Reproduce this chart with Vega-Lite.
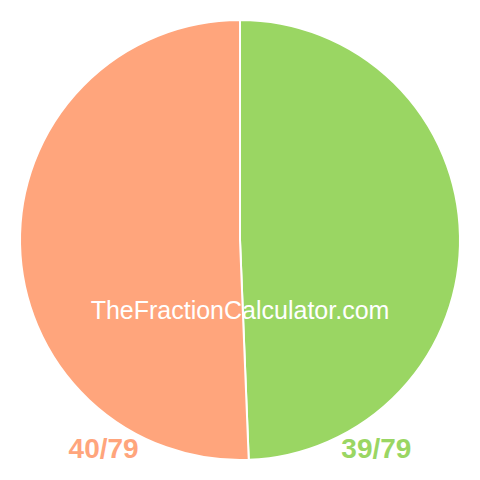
{
  "$schema": "https://vega.github.io/schema/vega-lite/v6.json",
  "width": 480,
  "height": 480,
  "padding": 0,
  "autosize": {"type": "fit", "contains": "padding"},
  "data": {
    "values": [
      {"fraction": "39/79", "value": 39, "order": 1},
      {"fraction": "40/79", "value": 40, "order": 2}
    ]
  },
  "layer": [
    {
      "mark": {"type": "arc", "outerRadius": 220, "stroke": "white", "strokeWidth": 2},
      "encoding": {
        "theta": {"field": "value", "type": "quantitative", "stack": true},
        "order": {"field": "order", "type": "quantitative"},
        "color": {
          "field": "fraction",
          "type": "nominal",
          "scale": {"domain": ["39/79", "40/79"], "range": ["#9AD663", "#FFA57C"]},
          "legend": null
        }
      }
    },
    {
      "mark": {
        "type": "text",
        "font": "Liberation Sans",
        "fontSize": 28,
        "fontWeight": "bold",
        "baseline": "alphabetic",
        "align": "center",
        "y": {"expr": "height - 22"}
      },
      "encoding": {
        "x": {
          "field": "fraction",
          "type": "nominal",
          "scale": {"type": "point", "domain": ["40/79", "39/79"], "padding": 0.38},
          "axis": null
        },
        "text": {"field": "fraction"},
        "color": {"field": "fraction", "type": "nominal", "legend": null}
      }
    },
    {
      "data": {"values": [{"site": "TheFractionCalculator.com"}]},
      "mark": {
        "type": "text",
        "font": "Liberation Sans",
        "fontSize": 25,
        "color": "white",
        "baseline": "alphabetic",
        "align": "center",
        "x": {"expr": "width / 2"},
        "y": {"expr": "height * 0.665"}
      },
      "encoding": {
        "text": {"field": "site"}
      }
    }
  ],
  "config": {
    "view": {"stroke": null}
  }
}
